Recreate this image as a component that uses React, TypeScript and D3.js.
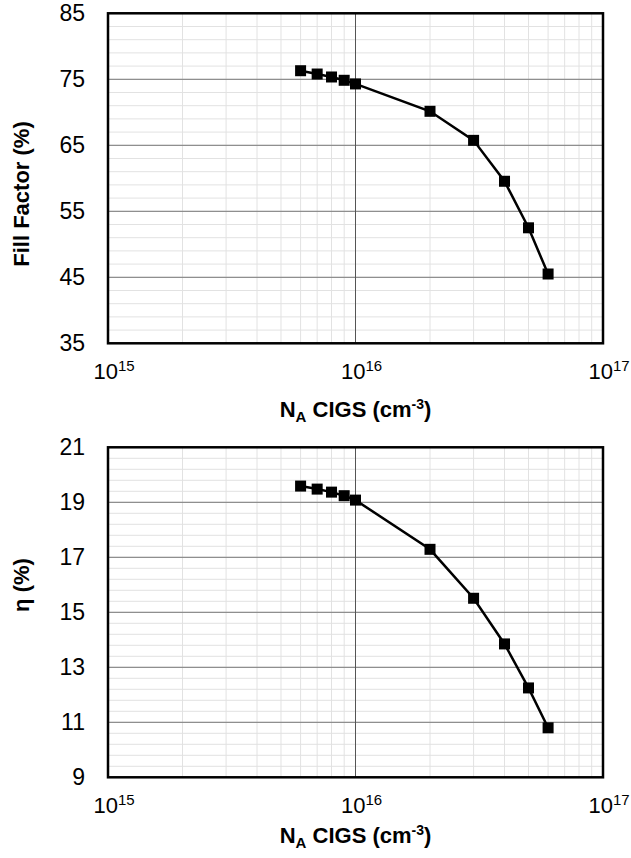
import * as d3 from "d3";

// doping concentration (cm^-3)
const naValues = [6e15, 7e15, 8e15, 9e15, 1e16, 2e16, 3e16, 4e16, 5e16, 6e16];
// fill factor (%)
const ffValues = [76.3, 75.8, 75.35, 74.85, 74.3, 70.15, 65.75, 59.55, 52.5, 45.5];
// efficiency (%)
const etaValues = [19.59, 19.48, 19.37, 19.24, 19.08, 17.29, 15.51, 13.85, 12.25, 10.8];

const xDecades = [15, 16, 17];
const ffTicks = [35, 45, 55, 65, 75, 85];
const etaTicks = [9, 11, 13, 15, 17, 19, 21];

const W = 631;
const H = 858;
const font = "'Liberation Sans', Arial, sans-serif";

type PanelProps = {
  top: number;
  bottom: number;
  values: number[];
  ticks: number[];
  minorStep: number;
  yTitle: string;
  titleY: number;
  xTitleOffset: number;
};

const Panel = ({ top, bottom, values, ticks, minorStep, yTitle, titleY, xTitleOffset }: PanelProps) => {
  const left = 108;
  const right = 603;
  const x = d3.scaleLog().domain([1e15, 1e17]).range([left, right]);
  const y = d3
    .scaleLinear()
    .domain([ticks[0], ticks[ticks.length - 1]])
    .range([bottom, top]);

  // log minor grid 2..9 per decade
  const minorX: number[] = [];
  for (let d = 15; d < 17; d++) {
    for (let m = 2; m <= 9; m++) minorX.push(m * Math.pow(10, d));
  }
  const minorY = d3.range(ticks[0], ticks[ticks.length - 1] + 1e-9, minorStep);

  const line = d3
    .line<number>()
    .x((d, i) => x(naValues[i]))
    .y((d) => y(d));

  return (
    <g>
      {minorX.map((v) => (
        <line key={"mx" + v} x1={x(v)} x2={x(v)} y1={top} y2={bottom} stroke="#e2e2e2" strokeWidth={1} />
      ))}
      {minorY.map((v) => (
        <line key={"my" + v} x1={left} x2={right} y1={y(v)} y2={y(v)} stroke="#e2e2e2" strokeWidth={1} />
      ))}
      {ticks.map((v) => (
        <line key={"gy" + v} x1={left} x2={right} y1={y(v)} y2={y(v)} stroke="#7a7a7a" strokeWidth={1} />
      ))}
      <line x1={x(1e16)} x2={x(1e16)} y1={top} y2={bottom} stroke="#555" strokeWidth={1} />
      <rect x={left} y={top} width={right - left} height={bottom - top} fill="none" stroke="#000" strokeWidth={2.5} />

      <path d={line(values) || ""} fill="none" stroke="#000" strokeWidth={2.5} />
      {values.map((v, i) => (
        <rect key={"p" + i} x={x(naValues[i]) - 5.5} y={y(v) - 5.5} width={11} height={11} fill="#000" />
      ))}

      {ticks.map((v) => (
        <text key={"ty" + v} x={85} y={y(v) + 8} textAnchor="end" fontSize={23} fontFamily={font} fill="#000">
          {v}
        </text>
      ))}
      {xDecades.map((d) => (
        <text key={"tx" + d} x={x(Math.pow(10, d)) + 6} y={bottom + 36} textAnchor="middle" fontSize={22} fontFamily={font} fill="#000">
          10
          <tspan fontSize={15} dy={-8}>
            {d}
          </tspan>
        </text>
      ))}

      <text
        transform={`translate(29,${titleY}) rotate(-90)`}
        textAnchor="middle"
        fontSize={22}
        fontWeight="bold"
        fontFamily={font}
        fill="#000"
      >
        {yTitle}
      </text>

      <text x={(left + right) / 2} y={bottom + xTitleOffset} textAnchor="middle" fontSize={22} fontWeight="bold" fontFamily={font} fill="#000">
        N
        <tspan fontSize={15} dy={5}>A</tspan>
        <tspan dy={-5}> CIGS (cm</tspan>
        <tspan fontSize={14} dy={-8}>-3</tspan>
        <tspan dy={8}>)</tspan>
      </text>
    </g>
  );
};

export default function App() {
  return (
    <svg width={W} height={H} style={{ position: "absolute", left: 0, top: 0, background: "#fff" }}>
      <rect width={W} height={H} fill="#fff" />
      <Panel top={13.3} bottom={343.3} values={ffValues} ticks={ffTicks} minorStep={2} yTitle="Fill Factor (%)" titleY={194} xTitleOffset={74} />
      <Panel top={447.3} bottom={777.3} values={etaValues} ticks={etaTicks} minorStep={0.4} yTitle="η (%)" titleY={585} xTitleOffset={66} />
    </svg>
  );
}
